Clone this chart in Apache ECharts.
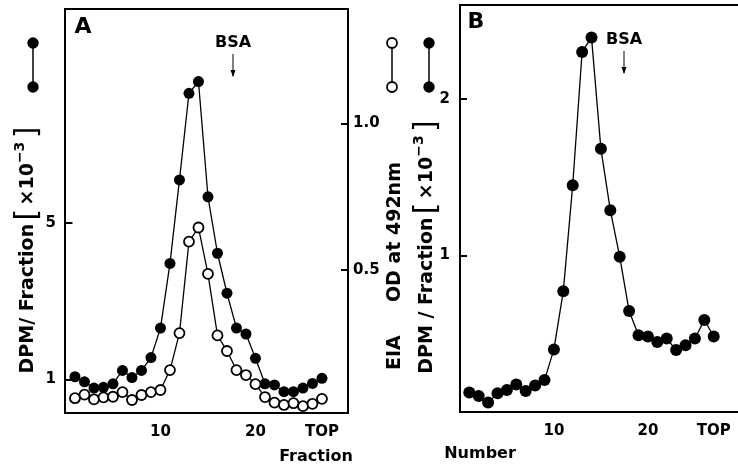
<!DOCTYPE html>
<html>
<head>
<meta charset="utf-8">
<script src="https://cdn.jsdelivr.net/npm/echarts@6/dist/echarts.min.js"></script>
<style>
  html, body { margin: 0; padding: 0; background: #fff; }
  #main { width: 738px; height: 466px; }
</style>
</head>
<body>
<div id="main"></div>
<script>
// fraction numbers (27 = TOP)
const fractions = [1, 2, 3, 4, 5, 6, 7, 8, 9, 10, 11, 12, 13, 14, 15, 16, 17, 18, 19, 20, 21, 22, 23, 24, 25, 26, 27];
// panel A: DPM/Fraction x10^-3 (filled) and EIA OD at 492nm (open)
const dpmA = [1.07, 0.94, 0.78, 0.80, 0.89, 1.23, 1.05, 1.23, 1.56, 2.31, 3.96, 6.09, 8.30, 8.60, 5.66, 4.22, 3.20, 2.31, 2.16, 1.54, 0.89, 0.86, 0.69, 0.69, 0.78, 0.90, 1.03];
const eiaA = [0.063, 0.075, 0.059, 0.066, 0.068, 0.084, 0.057, 0.074, 0.084, 0.091, 0.159, 0.285, 0.597, 0.645, 0.487, 0.277, 0.224, 0.159, 0.142, 0.111, 0.067, 0.048, 0.040, 0.046, 0.036, 0.044, 0.061];
// panel B: DPM/Fraction x10^-3
const dpmB = [0.124, 0.102, 0.060, 0.119, 0.140, 0.176, 0.134, 0.170, 0.204, 0.400, 0.772, 1.449, 2.300, 2.393, 1.681, 1.289, 0.992, 0.645, 0.490, 0.482, 0.447, 0.469, 0.396, 0.426, 0.469, 0.588, 0.482];

const xTicks = [10, 20, 27];
const yTicksA = [1, 5];
const yTicksOD = [0.5, 1.0];
const yTicksB = [1, 2];

const FONT = 'DejaVu Sans';
const pairs = (ys) => fractions.map((f, i) => [f, ys[i]]);

let myChart = echarts.init(document.getElementById('main'));

const labelBase = { fontFamily: FONT, fontWeight: 'bold', fontSize: 15, color: '#000' };

function xAx(grid, min, max) {
    return {
        gridIndex: grid, type: 'value', min: min, max: max,
        axisLine: { show: false }, splitLine: { show: false },
        axisTick: { show: false },
        axisLabel: Object.assign({}, labelBase, {
            margin: 12,
            customValues: xTicks,
            formatter: v => v === 27 ? 'TOP' : String(v)
        })
    };
}

function yAx(grid, min, max, ticks, pos, margin, fmt) {
    return {
        gridIndex: grid, type: 'value', min: min, max: max, position: pos,
        axisLine: { show: false }, splitLine: { show: false },
        axisTick: { show: true, inside: true, length: 7, customValues: ticks, lineStyle: { color: '#000', width: 2 } },
        axisLabel: Object.assign({}, labelBase, { margin: margin, customValues: ticks, formatter: fmt })
    };
}

const filled = { symbol: 'circle', symbolSize: 11, itemStyle: { color: '#000' } };
const open = { symbol: 'circle', symbolSize: 10, itemStyle: { color: '#fff', borderColor: '#000', borderWidth: 1.8 } };
const line = { color: '#000', width: 1.3 };

const vRich = {
    t: { fontFamily: FONT, fontWeight: 'bold', fontSize: 19, color: '#000', verticalAlign: 'middle' },
    br: { fontFamily: FONT, fontWeight: 'normal', fontSize: 30, color: '#000', verticalAlign: 'middle' },
    s: { fontFamily: FONT, fontWeight: 'bold', fontSize: 14, color: '#000', verticalAlign: 'top' }
};

function vText(x, y, text) {
    return {
        type: 'text', x: x, y: y, rotation: Math.PI / 2,
        style: { text: text, rich: vRich, align: 'center', verticalAlign: 'middle' }
    };
}

function legendPair(x, isOpen) {
    const st = isOpen ? { fill: '#fff', stroke: '#000', lineWidth: 1.8 } : { fill: '#000' };
    return [
        { type: 'line', shape: { x1: x, y1: 43, x2: x, y2: 87 }, style: { stroke: '#000', lineWidth: 1.5 } },
        { type: 'circle', shape: { cx: x, cy: 43, r: isOpen ? 5 : 5.7 }, style: st },
        { type: 'circle', shape: { cx: x, cy: 87, r: isOpen ? 5 : 5.7 }, style: st }
    ];
}

function bsa(x, y) {
    return [
        { type: 'text', x: x, y: y, style: { text: 'BSA', fontFamily: FONT, fontWeight: 'bold', fontSize: 16, fill: '#000', align: 'center', verticalAlign: 'middle' } },
        { type: 'line', shape: { x1: x, y1: y + 11, x2: x, y2: y + 33 }, style: { stroke: '#000', lineWidth: 1 } },
        { type: 'polygon', shape: { points: [[x - 2.5, y + 27], [x + 2.5, y + 27], [x, y + 34]] }, style: { fill: '#000' } }
    ];
}

const titleStyle = { fontFamily: FONT, fontWeight: 'bold', fill: '#000' };

myChart.setOption({
    backgroundColor: '#fff',
    animation: false,
    grid: [
        { left: 65, top: 9, width: 283, height: 404, outerBoundsMode: 'none', show: true, borderColor: '#000', borderWidth: 2, backgroundColor: 'transparent' },
        { left: 460, top: 5, width: 290, height: 407, outerBoundsMode: 'none', show: true, borderColor: '#000', borderWidth: 2, backgroundColor: 'transparent' }
    ],
    xAxis: [xAx(0, -0.05, 29.74), xAx(1, 0.01, 30.86)],
    yAxis: [
        yAx(0, 0.145, 10.45, yTicksA, 'left', 9, v => String(v)),
        yAx(0, 0.0126, 1.39, yTicksOD, 'right', 5, v => v.toFixed(1)),
        yAx(1, 0, 2.6, yTicksB, 'left', 10, v => String(v))
    ],
    series: [
        Object.assign({ type: 'line', xAxisIndex: 0, yAxisIndex: 0, data: pairs(dpmA), lineStyle: line }, filled),
        Object.assign({ type: 'line', xAxisIndex: 0, yAxisIndex: 1, data: pairs(eiaA), lineStyle: line }, open),
        Object.assign({ type: 'line', xAxisIndex: 1, yAxisIndex: 2, data: pairs(dpmB), lineStyle: line }, { symbol: 'circle', symbolSize: 12, itemStyle: { color: '#000' } })
    ],
    graphic: [
        { type: 'text', x: 83, y: 27, style: Object.assign({ text: 'A', fontSize: 22, align: 'center', verticalAlign: 'middle' }, titleStyle) },
        { type: 'text', x: 476, y: 22, style: Object.assign({ text: 'B', fontSize: 22, align: 'center', verticalAlign: 'middle' }, titleStyle) },
        ...bsa(233, 43),
        ...bsa(624, 40),
        ...legendPair(33, false),
        ...legendPair(392, true),
        ...legendPair(429, false),
        vText(28, 250, '{t|DPM/ Fraction} {br|[} {t|×10}{s|−3} {br|]}'),
        vText(395, 266, '{t|EIA     OD at 492nm}'),
        vText(427, 247, '{t|DPM / Fraction} {br|[} {t|×10}{s|−3} {br|]}'),
        { type: 'text', x: 316, y: 457, style: Object.assign({ text: 'Fraction', fontSize: 16, align: 'center', verticalAlign: 'middle' }, titleStyle) },
        { type: 'text', x: 480, y: 454, style: Object.assign({ text: 'Number', fontSize: 16, align: 'center', verticalAlign: 'middle' }, titleStyle) }
    ]
});
</script>
</body>
</html>
